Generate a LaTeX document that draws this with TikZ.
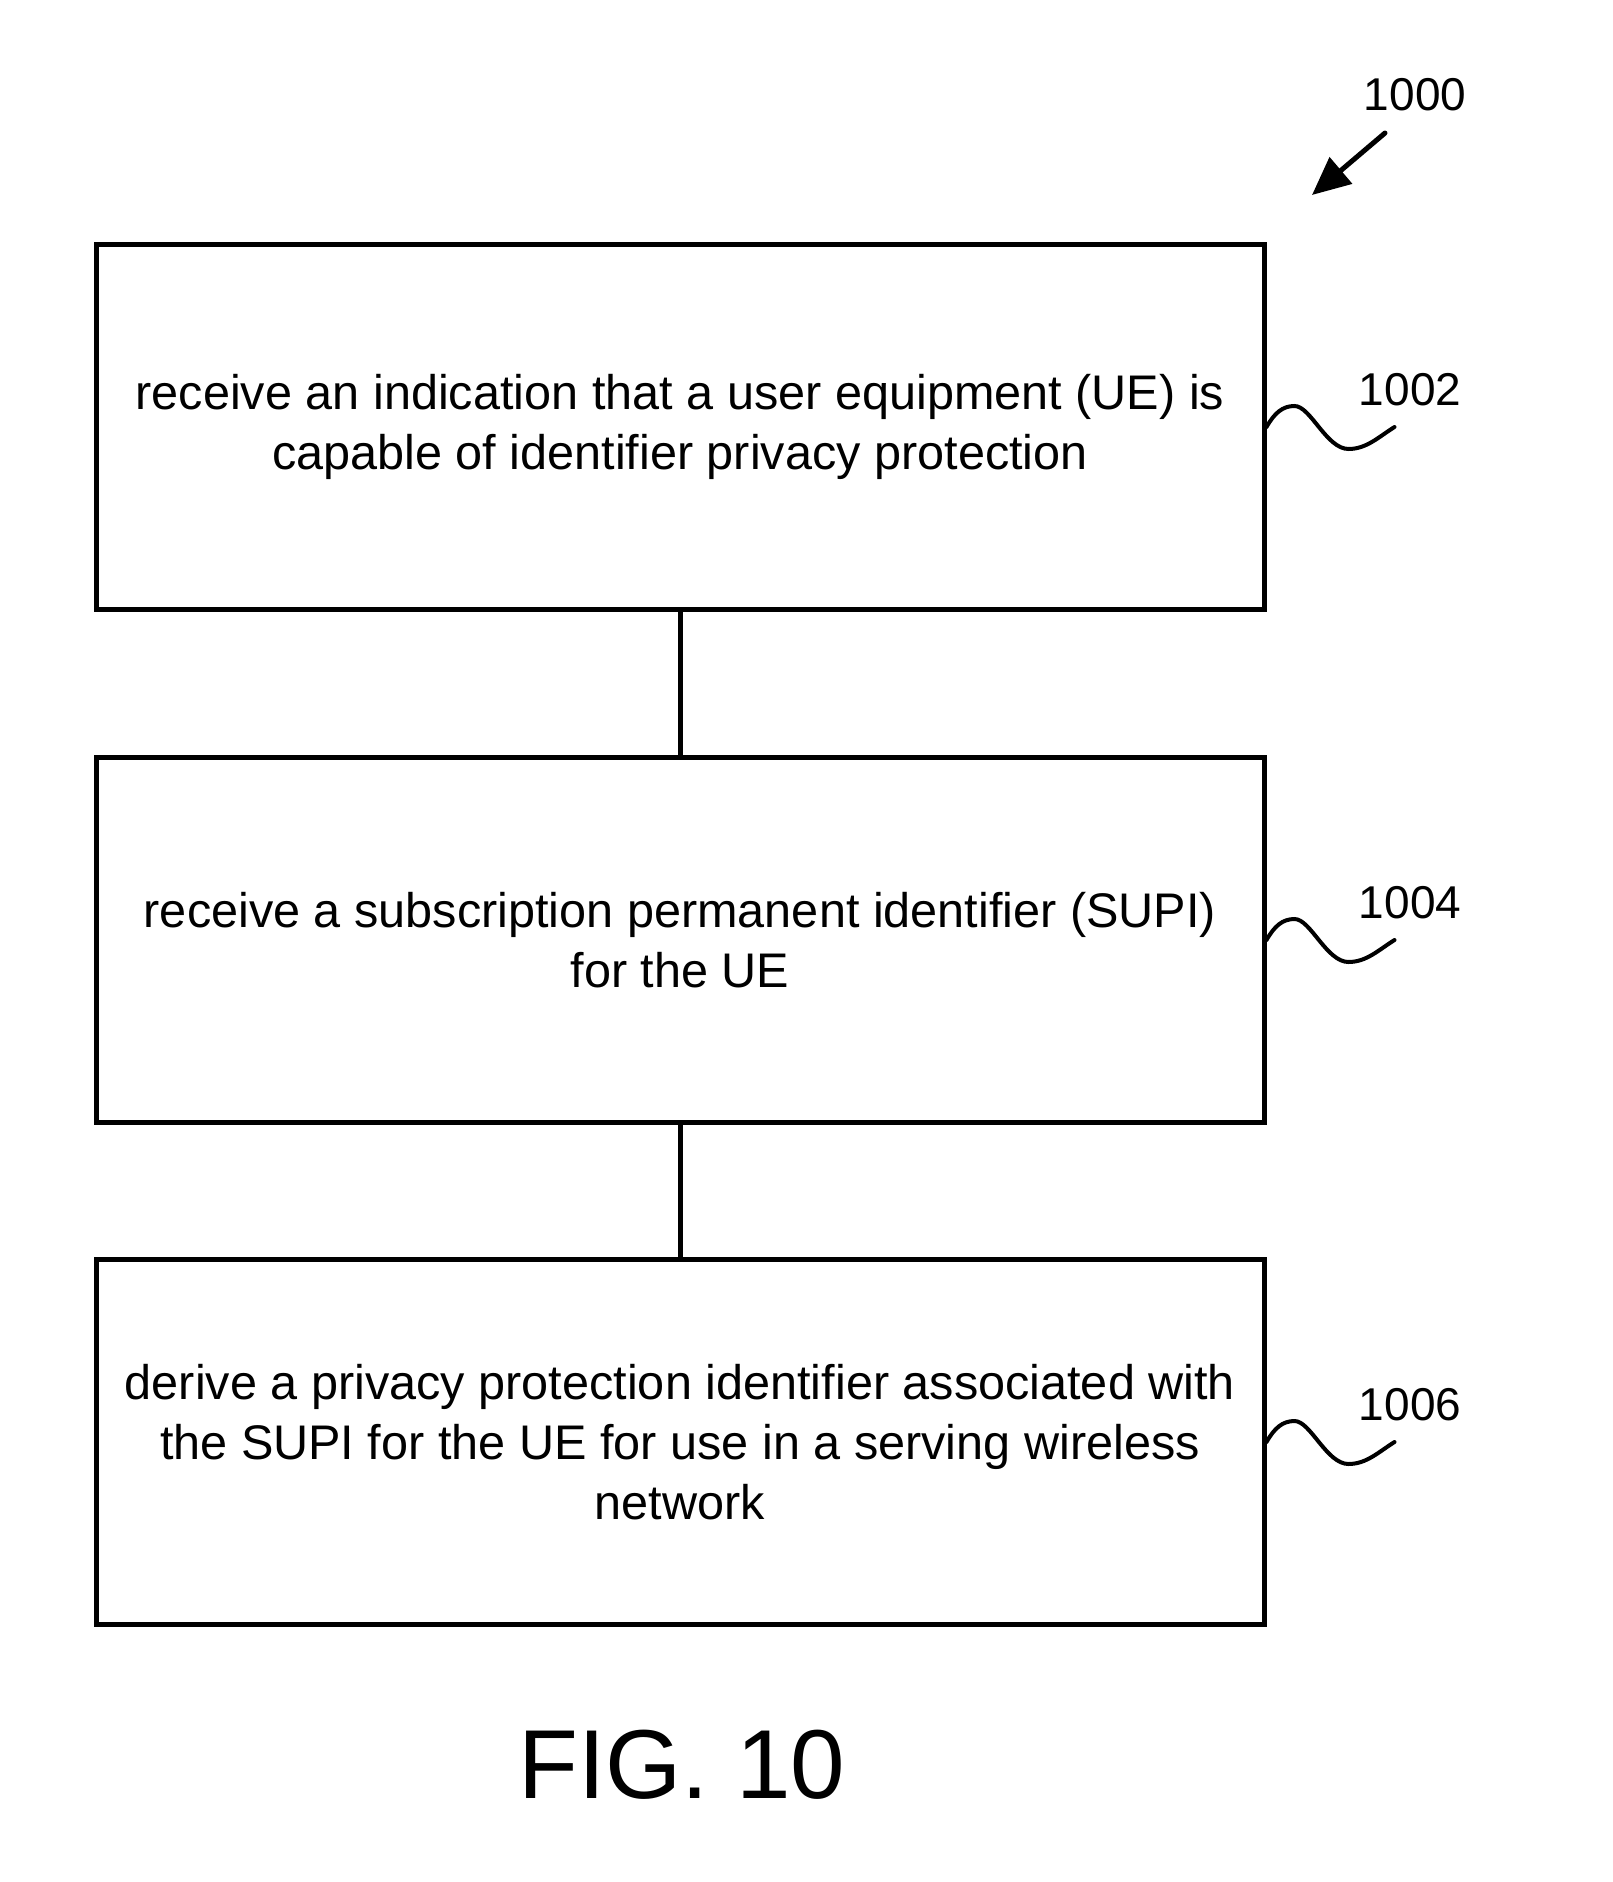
\documentclass[tikz,border=0pt]{standalone}
\usepackage{fontspec}
\setmainfont{Liberation Sans}
\usetikzlibrary{arrows.meta}

\tikzset{
  stepbox/.style={draw, line width=2.5pt, minimum width=584pt, minimum height=182.5pt,
    align=center, inner sep=0pt, font=\fontsize{24.3}{30}\selectfont},
  reflabel/.style={font=\fontsize{23}{28}\selectfont, inner sep=0pt},
  squiggle/.style={line width=2pt, line cap=round},
}

\begin{document}
\begin{tikzpicture}[x=0.5pt, y=-0.5pt]
  \useasboundingbox (0,0) rectangle (1612,1882);

  % steps
  \node[stepbox] (b1) at (680,427) {receive an indication that a user equipment (UE) is\\capable of identifier privacy protection};
  \node[stepbox] (b2) at (680,940) {receive a subscription permanent identifier (SUPI)\\for the UE};
  \node[stepbox] (b3) at (680,1442) {derive a privacy protection identifier associated with\\the SUPI for the UE for use in a serving wireless\\network};

  \draw[line width=2.5pt] (b1) -- (b2);
  \draw[line width=2.5pt] (b2) -- (b3);

  % reference numerals
  \node[reflabel] (l1000) at (1415,95) {1000};
  \coordinate (s1000) at (1385,133);
  \coordinate (t1000) at (1312,195);
  \draw[line width=2.5pt, line cap=round, -{Triangle[length=19pt, width=17pt]}] (s1000) -- (t1000);

  \foreach \b/\n in {b1/1002, b2/1004, b3/1006}{
    \node[reflabel] (l\n) at ([xshift=365pt, yshift=18.5pt]\b.center) {\n};
    \draw[squiggle] (\b.east) .. controls +(8,-14) and +(-12,0) .. ++(28,-21)
      .. controls +(16,0) and +(-22,0) .. ++(54,43)
      .. controls +(18,0) and +(-16,10) .. ++(46,-22);
  }

  \node[font=\fontsize{49}{56}\selectfont, inner sep=0pt] (fig) at (682,1765) {FIG. 10};
\end{tikzpicture}
\end{document}
